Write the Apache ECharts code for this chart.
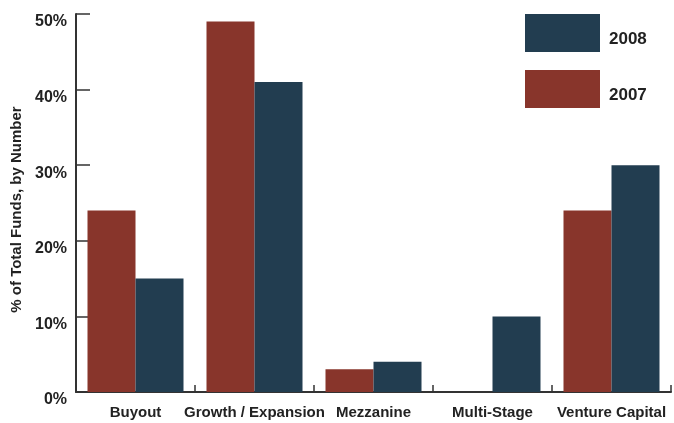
<!DOCTYPE html>
<html>
<head>
<meta charset="utf-8">
<script src="https://cdn.jsdelivr.net/npm/echarts@6/dist/echarts.min.js"></script>
<style>
  html, body { margin: 0; padding: 0; background: #fff; }
  #chart { width: 674px; height: 423px; }
</style>
</head>
<body>
<div id="chart"></div>
<script>
// Fund types and share of total funds (by number), in percent
const categories = ['Buyout', 'Growth / Expansion', 'Mezzanine', 'Multi-Stage', 'Venture Capital'];
const values2007 = [24, 49, 3, 0, 24];
const values2008 = [15, 41, 4, 10, 30];
const yTicks = [0, 10, 20, 30, 40, 50];

const RED = '#88352B';
const NAVY = '#223D50';
const AXIS = '#333333';
const FONT = '"Liberation Sans", Arial, sans-serif';

const chart = echarts.init(document.getElementById('chart'));
chart.setOption({
  animation: false,
  grid: { left: 76, right: 3, top: 14, bottom: 31, outerBoundsMode: 'none', containLabel: false },
  legend: {
    data: ['2008', '2007'],
    orient: 'vertical',
    left: 525,
    top: 14,
    padding: 0,
    itemWidth: 75,
    itemHeight: 38,
    itemGap: 18,
    icon: 'rect',
    selectedMode: false,
    formatter: '{t|{name}}',
    textStyle: {
      rich: {
        t: {
          color: '#222', fontFamily: FONT, fontWeight: 'bold', fontSize: 17,
          padding: [12, 0, 0, 4]
        }
      }
    }
  },
  xAxis: {
    type: 'category',
    data: categories,
    axisLine: { lineStyle: { color: AXIS, width: 2 } },
    axisTick: { show: true, inside: true, length: 7, alignWithLabel: false, lineStyle: { color: AXIS, width: 1.5 } },
    axisLabel: { color: '#222', fontFamily: FONT, fontWeight: 'bold', fontSize: 15, margin: 13, interval: 0 }
  },
  yAxis: {
    type: 'value',
    min: yTicks[0],
    max: yTicks[yTicks.length - 1],
    interval: 10,
    name: '% of Total Funds, by Number',
    nameLocation: 'middle',
    nameGap: 43,
    nameTextStyle: {
      color: '#222', fontFamily: FONT, fontWeight: 'bold', fontSize: 15,
      padding: [0, 13, 0, 0]
    },
    axisLine: { show: true, lineStyle: { color: AXIS, width: 2 } },
    axisTick: { show: true, inside: true, length: 14, lineStyle: { color: AXIS, width: 1.5 } },
    splitLine: { show: false },
    axisLabel: {
      color: '#222', fontFamily: FONT, fontWeight: 'bold', fontSize: 16, margin: 9,
      verticalAlign: 'top',
      formatter: v => v + '%'
    }
  },
  series: [
    {
      name: '2007', type: 'bar', data: values2007,
      barWidth: 48, barGap: '0%',
      itemStyle: { color: RED }
    },
    {
      name: '2008', type: 'bar', data: values2008,
      barWidth: 48, barGap: '0%',
      itemStyle: { color: NAVY }
    }
  ]
});
</script>
</body>
</html>
